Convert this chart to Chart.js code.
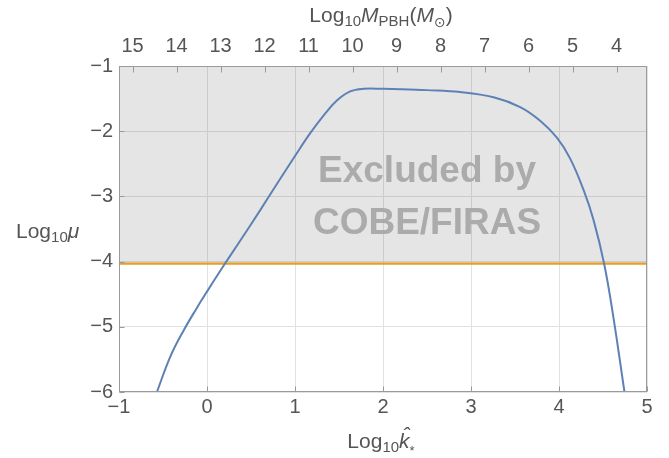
<!DOCTYPE html>
<html>
<head>
<meta charset="utf-8">
<script src="https://cdn.jsdelivr.net/npm/chart.js@4.4.0/dist/chart.umd.min.js"></script>
<style>
  html, body { margin: 0; padding: 0; background: #fff; }
  #wrap { width: 669px; height: 458px; }
</style>
</head>
<body>
<div id="wrap"><canvas id="muChart" width="669" height="458"></canvas></div>
<script>
// curve: Log10 k* vs Log10 mu
const kValues = [-0.569, -0.418, -0.267, -0.115, 0.0, 0.19, 0.377, 0.605, 0.794, 1.0,
  1.173, 1.324, 1.476, 1.627, 1.78, 2.0, 2.2, 2.5, 2.876, 3.256, 3.559, 3.786,
  3.976, 4.127, 4.279, 4.392, 4.514, 4.62, 4.744];
const muValues = [-6.0, -5.46, -5.06, -4.71, -4.46, -4.06, -3.68, -3.21, -2.81, -2.38,
  -2.03, -1.76, -1.53, -1.39, -1.35, -1.35, -1.355, -1.37, -1.40, -1.48, -1.63, -1.84,
  -2.10, -2.42, -2.90, -3.36, -4.04, -4.87, -6.0];

// COBE/FIRAS limit
const firasLimit = -4.03;

const kTicks = [-1, 0, 1, 2, 3, 4, 5];
const muTicks = [-6, -5, -4, -3, -2, -1];
const massTicks = [4, 5, 6, 7, 8, 9, 10, 11, 12, 13, 14, 15];
const kRange = [-1, 5];
const massRange = [3.307, 15.307]; // Log10 M_PBH at k = 5 and k = -1

const FONT = "Liberation Sans, Arial, sans-serif";
const labelColor = "#555";
const frameColor = "#9a9a9a";

Chart.defaults.font.family = FONT;

const minus = (v) => String(v).replace("-", "\u2212");

// ======== draw text with subscripts ========
function drawRich(ctx, parts, x, y, align) {
  let total = 0;
  parts.forEach((p) => {
    ctx.font = p.font;
    p.w = ctx.measureText(p.text).width;
    total += p.w;
  });
  let cx = align === "center" ? x - total / 2 : x;
  ctx.textAlign = "left";
  ctx.textBaseline = "alphabetic";
  parts.forEach((p) => {
    ctx.font = p.font;
    ctx.fillText(p.text, cx, y + (p.dy || 0));
    if (p.hat) {
      ctx.textAlign = "center";
      ctx.fillText("\u02C6", cx + p.w / 2 + 2, y - 6);
      ctx.textAlign = "left";
    }
    cx += p.w;
  });
}

const big = "21px " + FONT;
const bigIt = "italic 21px " + FONT;
const small = "15px " + FONT;

const framePlugin = {
  id: "frame",
  afterDatasetsDraw(chart) {
    const { ctx, chartArea: a, scales } = chart;
    ctx.save();

    // shaded label
    ctx.fillStyle = "#ababab";
    ctx.font = "bold 37px " + FONT;
    ctx.textAlign = "center";
    ctx.textBaseline = "alphabetic";
    const tx = scales.x.getPixelForValue(2.5);
    ctx.fillText("Excluded by", tx, scales.y.getPixelForValue(-2.78));
    ctx.fillText("COBE/FIRAS", tx, scales.y.getPixelForValue(-3.58));

    // frame
    ctx.strokeStyle = frameColor;
    ctx.lineWidth = 1;
    const l = Math.round(a.left) + 0.5, r = Math.round(a.right) - 0.5;
    const t = Math.round(a.top) + 0.5, b = Math.round(a.bottom) - 0.5;
    ctx.strokeRect(l, t, r - l, b - t);

    // inward tick marks
    ctx.beginPath();
    kTicks.forEach((v) => {
      const px = Math.round(scales.x.getPixelForValue(v)) + 0.5;
      ctx.moveTo(px, b); ctx.lineTo(px, b - 5);
    });
    massTicks.forEach((v) => {
      const px = Math.round(scales.xTop.getPixelForValue(v)) + 0.5;
      ctx.moveTo(px, t); ctx.lineTo(px, t + 6);
    });
    muTicks.forEach((v) => {
      const py = Math.round(scales.y.getPixelForValue(v)) + 0.5;
      ctx.moveTo(l, py); ctx.lineTo(l + 5, py);
    });
    ctx.stroke();

    // axis titles
    ctx.fillStyle = labelColor;
    const mid = (a.left + a.right) / 2 - 2;
    drawRich(ctx, [
      { text: "Log", font: big },
      { text: "10", font: small, dy: 4 },
      { text: "M", font: bigIt },
      { text: "PBH", font: small, dy: 4 },
      { text: "(", font: big },
      { text: "M", font: bigIt },
      { text: "\u2299", font: "14px " + FONT + ", DejaVu Sans", dy: 5 },
      { text: ")", font: big },
    ], mid, 22, "center");

    drawRich(ctx, [
      { text: "Log", font: big },
      { text: "10", font: small, dy: 4 },
      { text: "k", font: bigIt, hat: true },
      { text: "*", font: "13px " + FONT, dy: 7 },
    ], mid, 448, "center");

    drawRich(ctx, [
      { text: "Log", font: big },
      { text: "10", font: small, dy: 4 },
      { text: "\u03BC", font: bigIt },
    ], 16, 238, "left");

    ctx.restore();
  },
};

const curve = kValues.map((k, i) => ({ x: k, y: muValues[i] }));
const limitLine = kRange.map((k) => ({ x: k, y: firasLimit }));

new Chart(document.getElementById("muChart"), {
  type: "line",
  data: {
    datasets: [
      {
        label: "mu",
        data: curve,
        borderColor: "#5e81b5",
        borderWidth: 2,
        pointRadius: 0,
        tension: 0.4,
        fill: false,
      },
      {
        label: "COBE/FIRAS",
        data: limitLine,
        borderColor: "#e69f24",
        borderWidth: 2.2,
        pointRadius: 0,
        fill: "end",
        backgroundColor: "rgba(0,0,0,0.1)",
      },
    ],
  },
  options: {
    responsive: false,
    animation: false,
    layout: { padding: { left: 0, right: 22, top: 0, bottom: 0 } },
    plugins: { legend: { display: false }, tooltip: { enabled: false } },
    scales: {
      x: {
        type: "linear",
        position: "bottom",
        min: kRange[0],
        max: kRange[1],
        afterBuildTicks: (s) => { s.ticks = kTicks.map((v) => ({ value: v })); },
        afterFit: (s) => { s.height = 66; },
        ticks: {
          color: labelColor,
          font: { size: 20 },
          padding: 3,
          maxRotation: 0,
          autoSkip: false,
          callback: (v) => minus(v),
        },
        grid: { color: "#e2e2e2", drawTicks: false },
        border: { display: false },
      },
      xTop: {
        type: "linear",
        position: "top",
        min: massRange[0],
        max: massRange[1],
        reverse: true,
        afterBuildTicks: (s) => { s.ticks = massTicks.map((v) => ({ value: v })); },
        afterFit: (s) => { s.height = 66; },
        ticks: {
          color: labelColor,
          font: { size: 20 },
          padding: 8,
          maxRotation: 0,
          autoSkip: false,
        },
        grid: { display: false, drawTicks: false },
        border: { display: false },
      },
      y: {
        type: "linear",
        min: -6,
        max: -1,
        afterBuildTicks: (s) => { s.ticks = muTicks.map((v) => ({ value: v })); },
        afterFit: (s) => { s.width = 119; },
        ticks: {
          color: labelColor,
          font: { size: 20 },
          padding: 6,
          callback: (v) => minus(v),
        },
        grid: { color: "#e2e2e2", drawTicks: false },
        border: { display: false },
      },
    },
  },
  plugins: [framePlugin],
});
</script>
</body>
</html>
